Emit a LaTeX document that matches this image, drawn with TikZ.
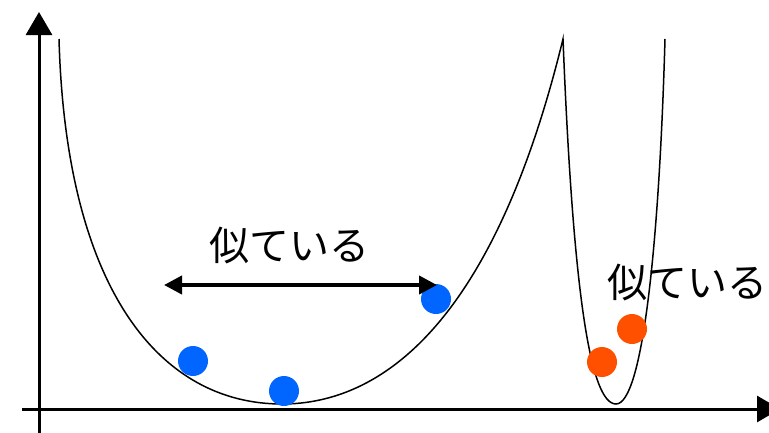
\documentclass[tikz,border=0pt]{standalone}
\usepackage{fontspec}
\newfontfamily\jp{Noto Sans CJK JP}
\usetikzlibrary{arrows.meta}
\definecolor{dotblue}{RGB}{0,102,255}
\definecolor{dotorange}{RGB}{255,80,0}
\tikzset{
  axis/.style={line width=3pt,-{Triangle[length=23pt,width=26pt]}},
  well/.style={line width=1.5pt,line join=miter},
  bdot/.style={circle,fill=dotblue,minimum size=30pt,inner sep=0pt},
  odot/.style={circle,fill=dotorange,minimum size=30pt,inner sep=0pt},
  lbl/.style={font=\jp\fontsize{40}{48}\selectfont,inner sep=0pt},
  span/.style={line width=4pt,{Triangle[length=18pt,width=18pt]}-{Triangle[length=18pt,width=18pt]}}
}
\begin{document}
\begin{tikzpicture}[x=1pt,y=-1pt]
\useasboundingbox (0,0) rectangle (769,432);
\clip (0,0) rectangle (769,432);
\fill[white] (0,0) rectangle (769,432);
% axes
\coordinate (yb) at (39,436);
\coordinate (yt) at (39,12);
\coordinate (xl) at (22,409);
\coordinate (xr) at (780,409);
\draw[axis] (yb) -- (yt);
\draw[axis] (xl) -- (xr);
% wells
\coordinate (w0) at (59,39);
\coordinate (m1) at (282,404);
\coordinate (cusp) at (563,39);
\coordinate (m2) at (616,404);
\coordinate (w1) at (665,39);
\draw[well] (w0) .. controls (66,290) and (160,404) .. (m1)
  .. controls (380,404) and (493,326) .. (cusp)
  .. controls (573,290) and (590,404) .. (m2)
  .. controls (642,404) and (659,250) .. (w1);
% dots
\node[bdot] (b1) at (193,361) {};
\node[bdot] (b2) at (284,391) {};
\node[bdot] (b3) at (436,299) {};
\node[odot] (o1) at (602,362) {};
\node[odot] (o2) at (632,329) {};
% labels
\node[lbl] (t1) at (289,246) {似ている};
\node[lbl] (t2) at (687,283) {似ている};
% double arrow
\coordinate (al) at (164,285);
\coordinate (ar) at (437,285);
\draw[span] (al) -- (ar);
\end{tikzpicture}
\end{document}
